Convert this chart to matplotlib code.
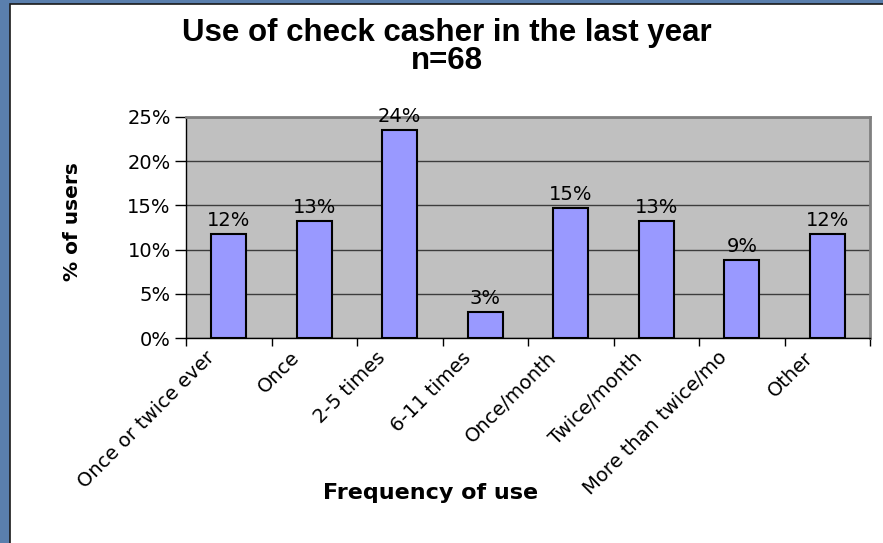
import matplotlib
matplotlib.use("Agg")
import matplotlib.pyplot as plt
import matplotlib.transforms as mtransforms
from matplotlib.patches import Rectangle

# share of users per frequency, in percent (n=68)
categories = ["Once or twice ever", "Once", "2-5 times", "6-11 times",
              "Once/month", "Twice/month", "More than twice/mo", "Other"]
shares = [11.8, 13.2, 23.5, 2.9, 14.7, 13.2, 8.8, 11.8]
yticks = [0, 5, 10, 15, 20, 25]

W, H = 883, 543
fig = plt.figure(figsize=(W / 100, H / 100), dpi=100, facecolor="#5a7fad")

# white chart panel inside the blue frame
panel = Rectangle((10 / W, -0.01), 1.0, (H - 4) / H + 0.01, transform=fig.transFigure,
                  facecolor="white", edgecolor="#1a1a1a", lw=1.2, zorder=-10)
fig.add_artist(panel)

ax = fig.add_axes([186 / W, (H - 338) / H, 684 / W, 221 / H])
ax.set_facecolor("#c0c0c0")

x = list(range(len(categories)))
ax.bar(x, shares, width=0.41, color="#9999ff", edgecolor="black", lw=1.5, zorder=3)

ax.set_xlim(-0.5, len(categories) - 0.5)
ax.set_ylim(0, 25)
ax.set_yticks(yticks)
ax.set_yticklabels([f"{t}%" for t in yticks], fontfamily="DejaVu Sans", fontsize=14)
ax.tick_params(axis="y", direction="out", length=8, width=1, pad=3, colors="black")
ax.yaxis.grid(True, color="#3c3c3c", lw=1)
ax.set_axisbelow(True)

# category boundaries carry the tick marks, labels sit under the bars
ax.set_xticks([i - 0.5 for i in range(len(categories) + 1)])
ax.set_xticklabels([])
ax.tick_params(axis="x", direction="out", length=6, width=1)

for side in ("top", "right"):
    ax.spines[side].set_color("#808080")
    ax.spines[side].set_linewidth(2)
for side in ("left", "bottom"):
    ax.spines[side].set_color("black")
    ax.spines[side].set_linewidth(1)

lab_tr = mtransforms.offset_copy(ax.transData, fig=fig, x=-24, y=-10, units="dots")
for i, name in enumerate(categories):
    ax.text(i, 0, name, transform=lab_tr, rotation=45, rotation_mode="anchor",
            ha="right", va="top", fontfamily="DejaVu Sans", fontsize=14)

val_tr = mtransforms.offset_copy(ax.transData, fig=fig, x=0, y=4, units="dots")
for i, v in enumerate(shares):
    ax.text(i, v, f"{v:.0f}%", transform=val_tr, ha="center", va="bottom",
            fontfamily="DejaVu Sans", fontsize=14)

fig.text(447 / W, 1 - 33 / H, "Use of check casher in the last year", ha="center", va="center",
         fontfamily="Liberation Sans", fontweight="bold", fontsize=22.5)
fig.text(447 / W, 1 - 61 / H, "n=68", ha="center", va="center",
         fontfamily="Liberation Sans", fontweight="bold", fontsize=22.5)

fig.text(73 / W, 1 - 222 / H, "% of users", rotation=90, ha="center", va="center",
         fontfamily="DejaVu Sans", fontweight="bold", fontsize=14.5)
fig.text(431 / W, 1 - 493 / H, "Frequency of use", ha="center", va="center",
         fontfamily="DejaVu Sans", fontweight="bold", fontsize=16)

fig.savefig("out.png", dpi=100, facecolor=fig.get_facecolor())
